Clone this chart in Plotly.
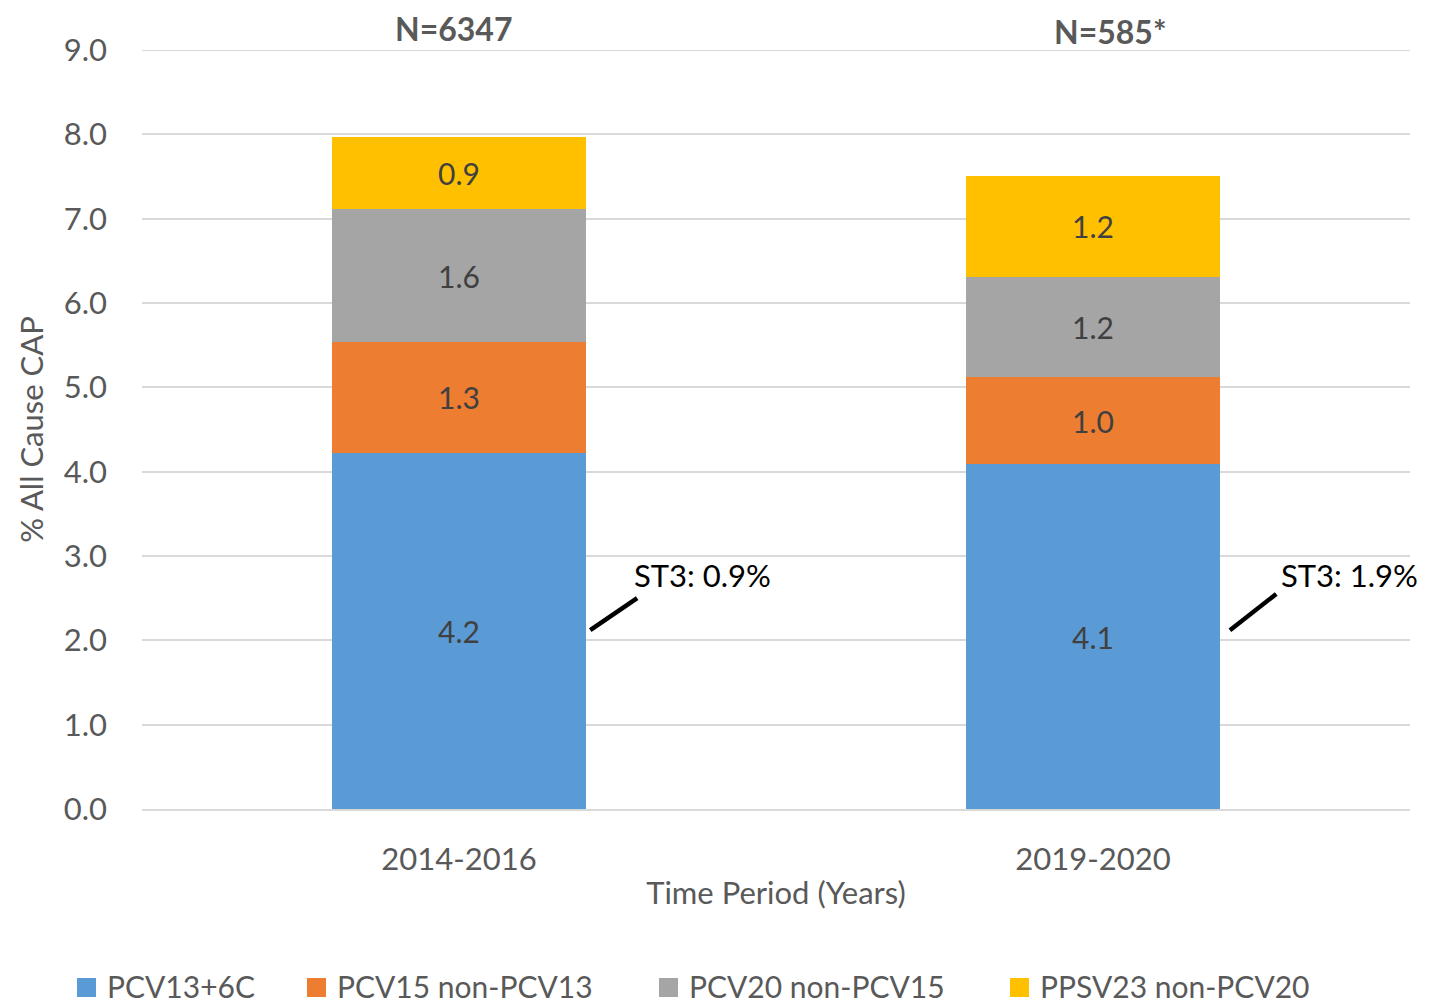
import plotly.graph_objects as go

categories = ["2014-2016", "2019-2020"]
series_names = ["PCV13+6C", "PCV15 non-PCV13", "PCV20 non-PCV15", "PPSV23 non-PCV20"]
pcv13_6c = [4.22, 4.09]
pcv15_non_pcv13 = [1.32, 1.03]
pcv20_non_pcv15 = [1.57, 1.19]
ppsv23_non_pcv20 = [0.86, 1.20]
colors = ["#5B9BD5", "#ED7D31", "#A5A5A5", "#FFC000"]
n_labels = ["N=6347", "N=585*"]
st3_labels = ["ST3: 0.9%", "ST3: 1.9%"]
y_ticks = [0, 1, 2, 3, 4, 5, 6, 7, 8, 9]

FONT = "Lato"
GRAY = "#595959"
OFF = 8  # page body margin offset
W, H = 1432, 1007
# desired plot area on screen: x 142..1410, y 50..809
ML, MR, MT, MB = 142 - OFF, W - 1410 + OFF, 50 - OFF, H - 809 + OFF
PW, PH = W - ML - MR, H - MT - MB


def px_x(p):
    return (p - OFF - ML) / PW


def px_y(p):
    return (H - MB - (p - OFF)) / PH


fig = go.Figure()
for name, vals, col in zip(series_names, [pcv13_6c, pcv15_non_pcv13, pcv20_non_pcv15, ppsv23_non_pcv20], colors):
    fig.add_trace(go.Bar(
        x=categories, y=vals, name=name, marker=dict(color=col, line=dict(width=0)),
        text=[f"{v:.1f}" for v in vals], textposition="inside", insidetextanchor="middle",
        textfont=dict(family=FONT, size=30, color="#404040"), hoverinfo="skip", showlegend=False,
    ))

# top gridline at 9.0
fig.add_shape(type="line", xref="paper", yref="y", x0=0, x1=1, y0=9, y1=9,
              line=dict(color="#D9D9D9", width=2), layer="below")

# N labels
n_pos = [(-0.008, 28), (1.028, 31)]
for lab, (xx, yy) in zip(n_labels, n_pos):
    fig.add_annotation(x=xx, y=px_y(yy), xref="x", yref="paper", text=f"<b>{lab}</b>", showarrow=False,
                       font=dict(family=FONT, size=32, color=GRAY), yanchor="middle")

# ST3 callouts
lines = [((0.207, 2.12), (0.281, 2.50)), ((1.216, 2.12), (1.289, 2.55))]
for (p0, p1) in lines:
    fig.add_shape(type="line", xref="x", yref="y", x0=p0[0], y0=p0[1], x1=p1[0], y1=p1[1],
                  line=dict(color="black", width=4.5))
st3_pos = [(0.273, 2.775), (1.293, 2.775)]
for lab, (xx, yy) in zip(st3_labels, st3_pos):
    fig.add_annotation(x=xx, y=yy, xref="x", yref="y", text=lab, showarrow=False, xanchor="left",
                       yanchor="middle", font=dict(family=FONT, size=31, color="black"))

# manual legend
leg_x = [77, 307, 659, 1010]
leg_y = 986
for name, col, lx in zip(series_names, colors, leg_x):
    fig.add_shape(type="rect", xref="paper", yref="paper",
                  x0=px_x(lx), x1=px_x(lx + 19), y0=px_y(leg_y - 8), y1=px_y(leg_y + 11),
                  fillcolor=col, line=dict(width=0))
    fig.add_annotation(x=px_x(lx + 28), y=px_y(leg_y), xref="paper", yref="paper", text=name,
                       showarrow=False, xanchor="left", yanchor="middle",
                       font=dict(family=FONT, size=30, color=GRAY))

fig.update_layout(
    barmode="stack", bargap=0.6,
    width=W, height=H,
    margin=dict(l=ML, r=MR, t=MT, b=MB, autoexpand=False),
    paper_bgcolor="white", plot_bgcolor="white",
    font=dict(family=FONT, color=GRAY, size=30),
    showlegend=False,
    xaxis=dict(showline=True, linecolor="#D9D9D9", linewidth=2, ticks="", tickfont=dict(size=31, color=GRAY),
               ticklabelstandoff=22, automargin=False,
               title=dict(text="Time Period (Years)", font=dict(size=31, color=GRAY), standoff=6),
               range=[-0.5, 1.5]),
    yaxis=dict(range=[0, 9], tickvals=y_ticks, ticktext=[f"{v:.1f}" for v in y_ticks],
               showgrid=True, gridcolor="#D9D9D9", gridwidth=2, zeroline=False, showline=False,
               tickfont=dict(size=31, color=GRAY), ticklabelstandoff=34, automargin=False,
               title=dict(text="% All Cause CAP", font=dict(size=31, color=GRAY), standoff=10)),
)

fig.write_html("out.html")
